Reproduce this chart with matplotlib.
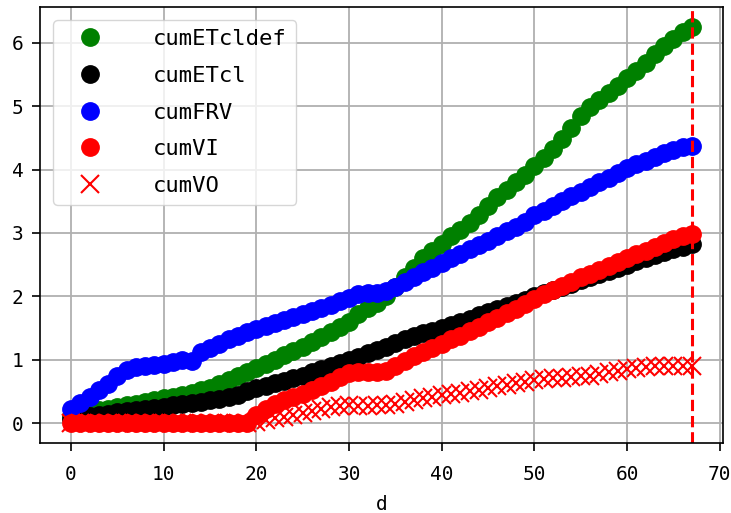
import matplotlib
matplotlib.use("Agg")
import matplotlib.pyplot as plt
import numpy as np

plt.rcParams['font.family'] = ['DejaVu Sans Mono', 'DejaVu Sans']

d = list(range(68))

cumETcldef = [0.12, 0.15, 0.18, 0.20, 0.23, 0.26, 0.29, 0.31, 0.34, 0.36,
              0.39, 0.42, 0.45, 0.48, 0.52, 0.56, 0.62, 0.68, 0.75, 0.81,
              0.87, 0.93, 1.00, 1.08, 1.14, 1.20, 1.28, 1.36, 1.44, 1.52,
              1.60, 1.72, 1.82, 1.90, 2.00, 2.15, 2.30, 2.45, 2.60, 2.72,
              2.82, 2.95, 3.05, 3.15, 3.28, 3.42, 3.56, 3.68, 3.80, 3.92,
              4.05, 4.18, 4.32, 4.48, 4.65, 4.85, 4.98, 5.10, 5.20, 5.32,
              5.44, 5.55, 5.68, 5.82, 5.94, 6.06, 6.17, 6.25]

cumETcl = [0.07, 0.09, 0.11, 0.13, 0.15, 0.17, 0.19, 0.21, 0.22, 0.24,
           0.26, 0.28, 0.30, 0.32, 0.34, 0.36, 0.38, 0.41, 0.45, 0.50,
           0.55, 0.59, 0.63, 0.67, 0.71, 0.75, 0.80, 0.85, 0.90, 0.95,
           1.00, 1.05, 1.10, 1.15, 1.20, 1.26, 1.32, 1.37, 1.42, 1.46,
           1.50, 1.55, 1.60, 1.65, 1.70, 1.75, 1.80, 1.85, 1.90, 1.95,
           2.00, 2.05, 2.10, 2.15, 2.20, 2.25, 2.30, 2.35, 2.40, 2.45,
           2.50, 2.55, 2.60, 2.65, 2.70, 2.74, 2.78, 2.82]

cumFRV = [0.23, 0.32, 0.42, 0.52, 0.62, 0.74, 0.84, 0.88, 0.90, 0.92,
          0.94, 0.97, 0.99, 0.98, 1.12, 1.19, 1.25, 1.32, 1.38, 1.43,
          1.48, 1.53, 1.58, 1.63, 1.68, 1.72, 1.77, 1.82, 1.87, 1.92,
          1.97, 2.03, 2.05, 2.06, 2.08, 2.15, 2.23, 2.30, 2.38, 2.45,
          2.53, 2.60, 2.67, 2.74, 2.81, 2.88, 2.95, 3.03, 3.10, 3.18,
          3.28, 3.35, 3.43, 3.50, 3.58, 3.65, 3.72, 3.80, 3.87, 3.95,
          4.02, 4.08, 4.14, 4.20, 4.26, 4.31, 4.35, 4.37]

cumVI = [0.0, 0.0, 0.0, 0.0, 0.0, 0.0, 0.0, 0.0, 0.0, 0.0,
         0.0, 0.0, 0.0, 0.0, 0.0, 0.0, 0.0, 0.0, 0.0, 0.0,
         0.13, 0.22, 0.30, 0.36, 0.41, 0.46, 0.52, 0.58, 0.65, 0.73,
         0.79, 0.81, 0.81, 0.81, 0.83, 0.90, 0.98, 1.06, 1.13, 1.19,
         1.25, 1.32, 1.38, 1.45, 1.52, 1.59, 1.66, 1.73, 1.80, 1.88,
         1.96, 2.03, 2.10, 2.17, 2.23, 2.30, 2.36, 2.42, 2.48, 2.54,
         2.60, 2.66, 2.72, 2.78, 2.84, 2.90, 2.95, 2.98]

cumVO = [0.0, 0.0, 0.0, 0.0, 0.0, 0.0, 0.0, 0.0, 0.0, 0.0,
         0.0, 0.0, 0.0, 0.0, 0.0, 0.0, 0.0, 0.0, 0.0, 0.0,
         0.02, 0.05, 0.08, 0.10, 0.13, 0.16, 0.19, 0.22, 0.25, 0.27,
         0.28, 0.27, 0.27, 0.28, 0.29, 0.31, 0.33, 0.36, 0.39, 0.42,
         0.44, 0.46, 0.48, 0.50, 0.53, 0.56, 0.58, 0.60, 0.63, 0.65,
         0.68, 0.70, 0.71, 0.72, 0.73, 0.74, 0.75, 0.77, 0.80, 0.82,
         0.85, 0.87, 0.89, 0.90, 0.90, 0.90, 0.90, 0.90]

labels = ['cumETcldef', 'cumETcl', 'cumFRV', 'cumVI', 'cumVO']
vline_x = 67

fig = plt.figure(figsize=(7.31, 5.13), dpi=100)
ax = fig.add_axes([40/731, 1-443/513, (723-40)/731, (443-7)/513])

ms = 12.5
ax.plot(d, cumETcldef, 'o', color='g', ms=ms, label=labels[0])
ax.plot(d, cumETcl, 'o', color='k', ms=ms, label=labels[1])
ax.plot(d, cumFRV, 'o', color='b', ms=ms, label=labels[2])
ax.plot(d, cumVI, 'o', color='r', ms=ms, label=labels[3])
ax.plot(d, cumVO, 'x', color='r', ms=ms, mew=1.5, label=labels[4])
ax.axvline(vline_x, color='r', ls='--', lw=2.2)

ax.grid(True, color='#b0b0b0', lw=1.3)
ax.set_xlabel('d', fontsize=14, labelpad=8)
ax.tick_params(labelsize=14, length=6, width=1.2, pad=6)
ax.tick_params(axis='x', pad=10)
for s in ax.spines.values():
    s.set_linewidth(1.2)

ax.legend(loc='upper left', fontsize=16, handlelength=2.5, handletextpad=1.6,
          labelspacing=0.75, borderaxespad=0.6)

fig.savefig('out.png', dpi=100)
